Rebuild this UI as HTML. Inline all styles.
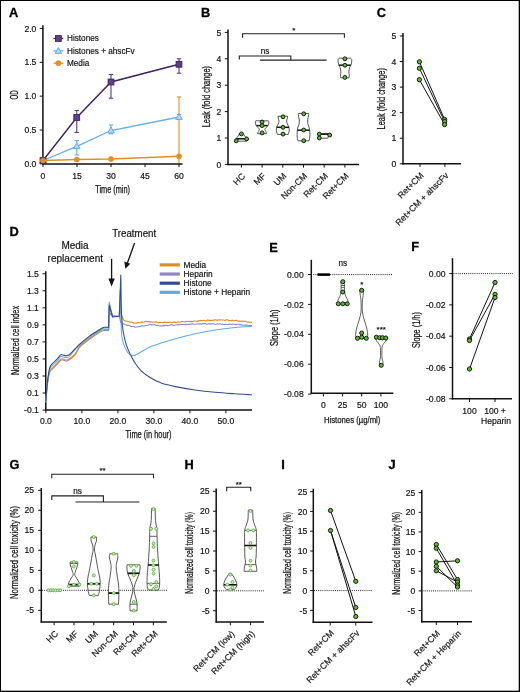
<!DOCTYPE html>
<html><head><meta charset="utf-8"><title>Figure</title>
<style>html,body{margin:0;padding:0;background:#fff;}svg{display:block;will-change:transform;}text{font-family:"Liberation Sans", sans-serif;}</style>
</head><body>
<svg width="520" height="692" viewBox="0 0 520 692" font-family='"Liberation Sans", sans-serif'>
<rect x="0" y="0" width="520" height="692" fill="#000"/>
<rect x="1" y="1" width="517.7" height="689.7" fill="#fff"/>
<text x="8.90" y="17.01" font-size="12.8" text-anchor="start" fill="#000" font-weight="bold" stroke="#000" stroke-width="0.3">A</text>
<line x1="42.90" y1="25.20" x2="42.90" y2="164.50" stroke="#111" stroke-width="1.5"/>
<line x1="39.70" y1="163.90" x2="42.90" y2="163.90" stroke="#111" stroke-width="1.0"/>
<text x="36.40" y="167.00" font-size="8.6" text-anchor="end" fill="#111" stroke="#111" stroke-width="0.18">0.0</text>
<line x1="39.70" y1="130.03" x2="42.90" y2="130.03" stroke="#111" stroke-width="1.0"/>
<text x="36.40" y="133.12" font-size="8.6" text-anchor="end" fill="#111" stroke="#111" stroke-width="0.18">0.5</text>
<line x1="39.70" y1="96.15" x2="42.90" y2="96.15" stroke="#111" stroke-width="1.0"/>
<text x="36.40" y="99.25" font-size="8.6" text-anchor="end" fill="#111" stroke="#111" stroke-width="0.18">1.0</text>
<line x1="39.70" y1="62.28" x2="42.90" y2="62.28" stroke="#111" stroke-width="1.0"/>
<text x="36.40" y="65.37" font-size="8.6" text-anchor="end" fill="#111" stroke="#111" stroke-width="0.18">1.5</text>
<line x1="39.70" y1="28.40" x2="42.90" y2="28.40" stroke="#111" stroke-width="1.0"/>
<text x="36.40" y="31.50" font-size="8.6" text-anchor="end" fill="#111" stroke="#111" stroke-width="0.18">2.0</text>
<line x1="42.20" y1="163.90" x2="182.50" y2="163.90" stroke="#111" stroke-width="1.5"/>
<line x1="43.00" y1="163.90" x2="43.00" y2="167.10" stroke="#111" stroke-width="1.0"/>
<text x="43.00" y="178.70" font-size="8.6" text-anchor="middle" fill="#111" stroke="#111" stroke-width="0.18">0</text>
<line x1="77.00" y1="163.90" x2="77.00" y2="167.10" stroke="#111" stroke-width="1.0"/>
<text x="77.00" y="178.70" font-size="8.6" text-anchor="middle" fill="#111" stroke="#111" stroke-width="0.18">15</text>
<line x1="111.00" y1="163.90" x2="111.00" y2="167.10" stroke="#111" stroke-width="1.0"/>
<text x="111.00" y="178.70" font-size="8.6" text-anchor="middle" fill="#111" stroke="#111" stroke-width="0.18">30</text>
<line x1="145.00" y1="163.90" x2="145.00" y2="167.10" stroke="#111" stroke-width="1.0"/>
<text x="145.00" y="178.70" font-size="8.6" text-anchor="middle" fill="#111" stroke="#111" stroke-width="0.18">45</text>
<line x1="179.00" y1="163.90" x2="179.00" y2="167.10" stroke="#111" stroke-width="1.0"/>
<text x="179.00" y="178.70" font-size="8.6" text-anchor="middle" fill="#111" stroke="#111" stroke-width="0.18">60</text>
<text x="112.60" y="193.00" font-size="10" text-anchor="middle" fill="#111" textLength="34.8" lengthAdjust="spacingAndGlyphs" stroke="#111" stroke-width="0.25">Time (min)</text>
<text x="14.30" y="98.50" font-size="10" text-anchor="middle" fill="#111" textLength="9.1" lengthAdjust="spacingAndGlyphs" transform="rotate(-90 14.30 94.90)" stroke="#111" stroke-width="0.25">OD</text>
<line x1="179.00" y1="97.00" x2="179.00" y2="163.00" stroke="#e0901e" stroke-width="1.1"/>
<line x1="176.80" y1="97.00" x2="181.20" y2="97.00" stroke="#e0901e" stroke-width="1.1"/>
<polyline points="43.00,160.50 76.75,146.30 111.00,130.50 179.00,117.00" fill="none" stroke="#64aee6" stroke-width="1.3"/>
<line x1="76.75" y1="140.50" x2="76.75" y2="155.00" stroke="#64aee6" stroke-width="1.1"/>
<line x1="74.55" y1="140.50" x2="78.95" y2="140.50" stroke="#64aee6" stroke-width="1.1"/>
<line x1="74.55" y1="155.00" x2="78.95" y2="155.00" stroke="#64aee6" stroke-width="1.1"/>
<line x1="111.00" y1="125.00" x2="111.00" y2="133.80" stroke="#64aee6" stroke-width="1.1"/>
<line x1="108.80" y1="125.00" x2="113.20" y2="125.00" stroke="#64aee6" stroke-width="1.1"/>
<line x1="108.80" y1="133.80" x2="113.20" y2="133.80" stroke="#64aee6" stroke-width="1.1"/>
<line x1="179.00" y1="114.50" x2="179.00" y2="119.00" stroke="#64aee6" stroke-width="1.1"/>
<line x1="176.80" y1="114.50" x2="181.20" y2="114.50" stroke="#64aee6" stroke-width="1.1"/>
<line x1="176.80" y1="119.00" x2="181.20" y2="119.00" stroke="#64aee6" stroke-width="1.1"/>
<path d="M43.00,157.10 L46.30,162.90 L39.70,162.90 Z" fill="#b9d6f2" stroke="#64aee6" stroke-width="1"/>
<path d="M76.75,142.90 L80.05,148.70 L73.45,148.70 Z" fill="#b9d6f2" stroke="#64aee6" stroke-width="1"/>
<path d="M111.00,127.10 L114.30,132.90 L107.70,132.90 Z" fill="#b9d6f2" stroke="#64aee6" stroke-width="1"/>
<path d="M179.00,113.60 L182.30,119.40 L175.70,119.40 Z" fill="#b9d6f2" stroke="#64aee6" stroke-width="1"/>
<polyline points="43.00,160.50 76.75,117.50 111.00,82.00 179.00,64.30" fill="none" stroke="#3e2160" stroke-width="1.4"/>
<line x1="76.75" y1="110.50" x2="76.75" y2="132.50" stroke="#5b3a80" stroke-width="1.1"/>
<line x1="74.55" y1="110.50" x2="78.95" y2="110.50" stroke="#5b3a80" stroke-width="1.1"/>
<line x1="74.55" y1="132.50" x2="78.95" y2="132.50" stroke="#5b3a80" stroke-width="1.1"/>
<line x1="111.00" y1="74.50" x2="111.00" y2="98.20" stroke="#5b3a80" stroke-width="1.1"/>
<line x1="108.80" y1="74.50" x2="113.20" y2="74.50" stroke="#5b3a80" stroke-width="1.1"/>
<line x1="108.80" y1="98.20" x2="113.20" y2="98.20" stroke="#5b3a80" stroke-width="1.1"/>
<line x1="179.00" y1="58.80" x2="179.00" y2="73.20" stroke="#5b3a80" stroke-width="1.1"/>
<line x1="176.80" y1="58.80" x2="181.20" y2="58.80" stroke="#5b3a80" stroke-width="1.1"/>
<line x1="176.80" y1="73.20" x2="181.20" y2="73.20" stroke="#5b3a80" stroke-width="1.1"/>
<rect x="40.10" y="157.60" width="5.8" height="5.8" fill="#5f4084" stroke="#3e2160" stroke-width="0.9"/>
<rect x="73.85" y="114.60" width="5.8" height="5.8" fill="#5f4084" stroke="#3e2160" stroke-width="0.9"/>
<rect x="108.10" y="79.10" width="5.8" height="5.8" fill="#5f4084" stroke="#3e2160" stroke-width="0.9"/>
<rect x="176.10" y="61.40" width="5.8" height="5.8" fill="#5f4084" stroke="#3e2160" stroke-width="0.9"/>
<polyline points="43.00,160.50 76.75,159.50 111.00,159.00 179.00,156.30" fill="none" stroke="#e0901e" stroke-width="1.4"/>
<circle cx="43.00" cy="160.50" r="2.6" fill="#e0901e" stroke="#e0901e" stroke-width="0.5"/>
<circle cx="76.75" cy="159.50" r="2.6" fill="#e0901e" stroke="#e0901e" stroke-width="0.5"/>
<circle cx="111.00" cy="159.00" r="2.6" fill="#e0901e" stroke="#e0901e" stroke-width="0.5"/>
<circle cx="179.00" cy="156.30" r="2.6" fill="#e0901e" stroke="#e0901e" stroke-width="0.5"/>
<line x1="53.50" y1="38.50" x2="63.30" y2="38.50" stroke="#3e2160" stroke-width="1.3"/>
<rect x="55.5" y="35.6" width="5.8" height="5.8" fill="#5f4084" stroke="#3e2160" stroke-width="0.9"/>
<text x="67.00" y="41.45" font-size="8.2" text-anchor="start" fill="#111" stroke="#111" stroke-width="0.18">Histones</text>
<line x1="53.50" y1="50.80" x2="63.30" y2="50.80" stroke="#64aee6" stroke-width="1.3"/>
<path d="M58.4,47.6 L61.6,53.4 L55.2,53.4 Z" fill="#b9d6f2" stroke="#64aee6" stroke-width="1"/>
<text x="67.00" y="53.75" font-size="8.2" text-anchor="start" fill="#111" stroke="#111" stroke-width="0.18">Histones + ahscFv</text>
<line x1="53.50" y1="63.20" x2="63.30" y2="63.20" stroke="#e0901e" stroke-width="1.3"/>
<circle cx="58.40" cy="63.20" r="2.6" fill="#e0901e" stroke="#e0901e" stroke-width="0.5"/>
<text x="67.00" y="66.15" font-size="8.2" text-anchor="start" fill="#111" stroke="#111" stroke-width="0.18">Media</text>
<text x="201.00" y="16.51" font-size="12.8" text-anchor="start" fill="#000" font-weight="bold" stroke="#000" stroke-width="0.3">B</text>
<line x1="228.00" y1="29.50" x2="228.00" y2="165.00" stroke="#111" stroke-width="1.5"/>
<line x1="224.80" y1="164.40" x2="228.00" y2="164.40" stroke="#111" stroke-width="1.0"/>
<text x="221.30" y="167.50" font-size="8.6" text-anchor="end" fill="#111" stroke="#111" stroke-width="0.18">0</text>
<line x1="224.80" y1="138.00" x2="228.00" y2="138.00" stroke="#111" stroke-width="1.0"/>
<text x="221.30" y="141.10" font-size="8.6" text-anchor="end" fill="#111" stroke="#111" stroke-width="0.18">1</text>
<line x1="224.80" y1="111.60" x2="228.00" y2="111.60" stroke="#111" stroke-width="1.0"/>
<text x="221.30" y="114.70" font-size="8.6" text-anchor="end" fill="#111" stroke="#111" stroke-width="0.18">2</text>
<line x1="224.80" y1="85.20" x2="228.00" y2="85.20" stroke="#111" stroke-width="1.0"/>
<text x="221.30" y="88.30" font-size="8.6" text-anchor="end" fill="#111" stroke="#111" stroke-width="0.18">3</text>
<line x1="224.80" y1="58.80" x2="228.00" y2="58.80" stroke="#111" stroke-width="1.0"/>
<text x="221.30" y="61.90" font-size="8.6" text-anchor="end" fill="#111" stroke="#111" stroke-width="0.18">4</text>
<line x1="224.80" y1="32.40" x2="228.00" y2="32.40" stroke="#111" stroke-width="1.0"/>
<text x="221.30" y="35.50" font-size="8.6" text-anchor="end" fill="#111" stroke="#111" stroke-width="0.18">5</text>
<line x1="227.30" y1="164.40" x2="359.00" y2="164.40" stroke="#111" stroke-width="1.5"/>
<line x1="241.40" y1="164.40" x2="241.40" y2="167.60" stroke="#111" stroke-width="1.0"/>
<line x1="262.10" y1="164.40" x2="262.10" y2="167.60" stroke="#111" stroke-width="1.0"/>
<line x1="282.80" y1="164.40" x2="282.80" y2="167.60" stroke="#111" stroke-width="1.0"/>
<line x1="303.50" y1="164.40" x2="303.50" y2="167.60" stroke="#111" stroke-width="1.0"/>
<line x1="324.20" y1="164.40" x2="324.20" y2="167.60" stroke="#111" stroke-width="1.0"/>
<line x1="344.90" y1="164.40" x2="344.90" y2="167.60" stroke="#111" stroke-width="1.0"/>
<text x="243.40" y="177.57" font-size="8.8" text-anchor="end" fill="#111" stroke="#111" stroke-width="0.18" transform="rotate(-45 243.40 174.40)">HC</text>
<text x="264.10" y="177.57" font-size="8.8" text-anchor="end" fill="#111" stroke="#111" stroke-width="0.18" transform="rotate(-45 264.10 174.40)">MF</text>
<text x="284.80" y="177.57" font-size="8.8" text-anchor="end" fill="#111" stroke="#111" stroke-width="0.18" transform="rotate(-45 284.80 174.40)">UM</text>
<text x="305.50" y="177.57" font-size="8.8" text-anchor="end" fill="#111" stroke="#111" stroke-width="0.18" transform="rotate(-45 305.50 174.40)">Non-CM</text>
<text x="326.20" y="177.57" font-size="8.8" text-anchor="end" fill="#111" stroke="#111" stroke-width="0.18" transform="rotate(-45 326.20 174.40)">Ret-CM</text>
<text x="346.90" y="177.57" font-size="8.8" text-anchor="end" fill="#111" stroke="#111" stroke-width="0.18" transform="rotate(-45 346.90 174.40)">Ret+CM</text>
<text x="206.20" y="100.20" font-size="10" text-anchor="middle" fill="#111" textLength="61.3" lengthAdjust="spacingAndGlyphs" transform="rotate(-90 206.20 96.60)" stroke="#111" stroke-width="0.25">Leak (fold change)</text>
<polyline points="242.60,37.80 242.60,33.80 344.40,33.80 344.40,37.80" fill="none" stroke="#222" stroke-width="1.1"/>
<text x="293.70" y="33.38" font-size="8" text-anchor="middle" fill="#111" stroke="#111" stroke-width="0.18">*</text>
<polyline points="239.30,59.40 239.30,56.00 290.80,56.00 290.80,60.10" fill="none" stroke="#222" stroke-width="1.1"/>
<line x1="260.00" y1="60.10" x2="326.70" y2="60.10" stroke="#222" stroke-width="1.1"/>
<text x="265.00" y="53.75" font-size="8.2" text-anchor="middle" fill="#111" stroke="#111" stroke-width="0.18">ns</text>
<path d="M239.60,133.50 L243.20,133.50 C243.43,133.92 243.98,135.08 244.60,136.00 C245.22,136.92 246.57,138.13 246.90,139.00 C247.23,139.87 246.65,140.83 246.60,141.20 L236.20,141.20 C236.15,140.83 235.57,139.87 235.90,139.00 C236.23,138.13 237.58,136.92 238.20,136.00 C238.82,135.08 239.37,133.92 239.60,133.50 Z" fill="#fff" stroke="#3a3a3a" stroke-width="0.85" stroke-linejoin="round"/>
<line x1="236.05" y1="138.80" x2="246.75" y2="138.80" stroke="#111" stroke-width="1.5"/>
<path d="M255.80,120.80 L268.40,120.80 C268.48,121.17 269.02,122.13 268.90,123.00 C268.78,123.87 268.37,125.00 267.70,126.00 C267.03,127.00 265.20,128.08 264.90,129.00 C264.60,129.92 265.60,130.72 265.90,131.50 C266.20,132.28 266.57,133.33 266.70,133.70 L257.50,133.70 C257.63,133.33 258.00,132.28 258.30,131.50 C258.60,130.72 259.60,129.92 259.30,129.00 C259.00,128.08 257.17,127.00 256.50,126.00 C255.83,125.00 255.42,123.87 255.30,123.00 C255.18,122.13 255.72,121.17 255.80,120.80 Z" fill="#fff" stroke="#3a3a3a" stroke-width="0.85" stroke-linejoin="round"/>
<line x1="256.34" y1="125.60" x2="267.86" y2="125.60" stroke="#111" stroke-width="1.5"/>
<path d="M278.00,116.20 L287.60,116.20 C287.57,116.50 287.57,117.20 287.40,118.00 C287.23,118.80 286.60,120.00 286.60,121.00 C286.60,122.00 287.00,122.93 287.40,124.00 C287.80,125.07 288.70,126.23 289.00,127.40 C289.30,128.57 289.33,129.83 289.20,131.00 C289.07,132.17 288.37,133.83 288.20,134.40 L277.40,134.40 C277.23,133.83 276.53,132.17 276.40,131.00 C276.27,129.83 276.30,128.57 276.60,127.40 C276.90,126.23 277.80,125.07 278.20,124.00 C278.60,122.93 279.00,122.00 279.00,121.00 C279.00,120.00 278.37,118.80 278.20,118.00 C278.03,117.20 278.03,116.50 278.00,116.20 Z" fill="#fff" stroke="#3a3a3a" stroke-width="0.85" stroke-linejoin="round"/>
<line x1="276.65" y1="127.30" x2="288.95" y2="127.30" stroke="#111" stroke-width="1.5"/>
<path d="M298.30,113.40 L308.70,113.40 C308.67,113.83 308.67,114.90 308.50,116.00 C308.33,117.10 307.80,118.67 307.70,120.00 C307.60,121.33 307.63,122.67 307.90,124.00 C308.17,125.33 308.98,126.67 309.30,128.00 C309.62,129.33 309.72,130.50 309.80,132.00 C309.88,133.50 309.92,135.53 309.80,137.00 C309.68,138.47 309.22,140.17 309.10,140.80 L297.90,140.80 C297.78,140.17 297.32,138.47 297.20,137.00 C297.08,135.53 297.12,133.50 297.20,132.00 C297.28,130.50 297.38,129.33 297.70,128.00 C298.02,126.67 298.83,125.33 299.10,124.00 C299.37,122.67 299.40,121.33 299.30,120.00 C299.20,118.67 298.67,117.10 298.50,116.00 C298.33,114.90 298.33,113.83 298.30,113.40 Z" fill="#fff" stroke="#3a3a3a" stroke-width="0.85" stroke-linejoin="round"/>
<line x1="297.43" y1="130.20" x2="309.57" y2="130.20" stroke="#111" stroke-width="1.5"/>
<path d="M319.60,133.60 L328.80,133.60 C328.77,133.92 328.77,134.73 328.60,135.50 C328.43,136.27 327.93,137.75 327.80,138.20 L320.60,138.20 C320.47,137.75 319.97,136.27 319.80,135.50 C319.63,134.73 319.63,133.92 319.60,133.60 Z" fill="#fff" stroke="#3a3a3a" stroke-width="0.85" stroke-linejoin="round"/>
<line x1="319.66" y1="134.20" x2="328.74" y2="134.20" stroke="#111" stroke-width="1.5"/>
<path d="M339.10,58.20 L350.70,58.20 C350.87,58.42 351.57,58.70 351.70,59.50 C351.83,60.30 351.63,62.05 351.50,63.00 C351.37,63.95 351.23,64.37 350.90,65.20 C350.57,66.03 349.83,66.87 349.50,68.00 C349.17,69.13 348.93,70.83 348.90,72.00 C348.87,73.17 349.27,74.03 349.30,75.00 C349.33,75.97 349.13,77.33 349.10,77.80 L340.70,77.80 C340.67,77.33 340.47,75.97 340.50,75.00 C340.53,74.03 340.93,73.17 340.90,72.00 C340.87,70.83 340.63,69.13 340.30,68.00 C339.97,66.87 339.23,66.03 338.90,65.20 C338.57,64.37 338.43,63.95 338.30,63.00 C338.17,62.05 337.97,60.30 338.10,59.50 C338.23,58.70 338.93,58.42 339.10,58.20 Z" fill="#fff" stroke="#3a3a3a" stroke-width="0.85" stroke-linejoin="round"/>
<line x1="338.90" y1="65.20" x2="350.90" y2="65.20" stroke="#111" stroke-width="1.5"/>
<circle cx="236.20" cy="140.80" r="1.9320000000000002" fill="#5db834" stroke="#151a10" stroke-width="1.0"/>
<circle cx="241.40" cy="133.90" r="1.9320000000000002" fill="#5db834" stroke="#151a10" stroke-width="1.0"/>
<circle cx="246.60" cy="138.90" r="1.9320000000000002" fill="#5db834" stroke="#151a10" stroke-width="1.0"/>
<circle cx="262.10" cy="122.00" r="1.9320000000000002" fill="#5db834" stroke="#151a10" stroke-width="1.0"/>
<circle cx="262.10" cy="125.60" r="1.9320000000000002" fill="#5db834" stroke="#151a10" stroke-width="1.0"/>
<circle cx="262.10" cy="132.90" r="1.9320000000000002" fill="#5db834" stroke="#151a10" stroke-width="1.0"/>
<circle cx="283.00" cy="116.80" r="1.9320000000000002" fill="#5db834" stroke="#151a10" stroke-width="1.0"/>
<circle cx="283.00" cy="127.30" r="1.9320000000000002" fill="#5db834" stroke="#151a10" stroke-width="1.0"/>
<circle cx="283.00" cy="134.10" r="1.9320000000000002" fill="#5db834" stroke="#151a10" stroke-width="1.0"/>
<circle cx="303.70" cy="113.80" r="1.9320000000000002" fill="#5db834" stroke="#151a10" stroke-width="1.0"/>
<circle cx="303.70" cy="130.00" r="1.9320000000000002" fill="#5db834" stroke="#151a10" stroke-width="1.0"/>
<circle cx="303.70" cy="140.70" r="1.9320000000000002" fill="#5db834" stroke="#151a10" stroke-width="1.0"/>
<circle cx="319.30" cy="134.10" r="1.9320000000000002" fill="#5db834" stroke="#151a10" stroke-width="1.0"/>
<circle cx="319.30" cy="138.00" r="1.9320000000000002" fill="#5db834" stroke="#151a10" stroke-width="1.0"/>
<circle cx="329.70" cy="135.00" r="1.9320000000000002" fill="#5db834" stroke="#151a10" stroke-width="1.0"/>
<circle cx="344.90" cy="58.80" r="1.9320000000000002" fill="#5db834" stroke="#151a10" stroke-width="1.0"/>
<circle cx="344.90" cy="65.30" r="1.9320000000000002" fill="#5db834" stroke="#151a10" stroke-width="1.0"/>
<circle cx="344.90" cy="77.40" r="1.9320000000000002" fill="#5db834" stroke="#151a10" stroke-width="1.0"/>
<text x="376.70" y="16.96" font-size="12.8" text-anchor="start" fill="#000" font-weight="bold" stroke="#000" stroke-width="0.3">C</text>
<line x1="403.00" y1="33.00" x2="403.00" y2="164.40" stroke="#111" stroke-width="1.5"/>
<line x1="399.80" y1="163.80" x2="403.00" y2="163.80" stroke="#111" stroke-width="1.0"/>
<text x="396.30" y="166.90" font-size="8.6" text-anchor="end" fill="#111" stroke="#111" stroke-width="0.18">0</text>
<line x1="399.80" y1="138.24" x2="403.00" y2="138.24" stroke="#111" stroke-width="1.0"/>
<text x="396.30" y="141.34" font-size="8.6" text-anchor="end" fill="#111" stroke="#111" stroke-width="0.18">1</text>
<line x1="399.80" y1="112.68" x2="403.00" y2="112.68" stroke="#111" stroke-width="1.0"/>
<text x="396.30" y="115.78" font-size="8.6" text-anchor="end" fill="#111" stroke="#111" stroke-width="0.18">2</text>
<line x1="399.80" y1="87.12" x2="403.00" y2="87.12" stroke="#111" stroke-width="1.0"/>
<text x="396.30" y="90.22" font-size="8.6" text-anchor="end" fill="#111" stroke="#111" stroke-width="0.18">3</text>
<line x1="399.80" y1="61.56" x2="403.00" y2="61.56" stroke="#111" stroke-width="1.0"/>
<text x="396.30" y="64.66" font-size="8.6" text-anchor="end" fill="#111" stroke="#111" stroke-width="0.18">4</text>
<line x1="399.80" y1="36.00" x2="403.00" y2="36.00" stroke="#111" stroke-width="1.0"/>
<text x="396.30" y="39.10" font-size="8.6" text-anchor="end" fill="#111" stroke="#111" stroke-width="0.18">5</text>
<line x1="402.30" y1="163.80" x2="461.00" y2="163.80" stroke="#111" stroke-width="1.5"/>
<line x1="420.00" y1="163.80" x2="420.00" y2="167.00" stroke="#111" stroke-width="1.0"/>
<line x1="444.90" y1="163.80" x2="444.90" y2="167.00" stroke="#111" stroke-width="1.0"/>
<text x="422.00" y="176.97" font-size="8.8" text-anchor="end" fill="#111" stroke="#111" stroke-width="0.18" transform="rotate(-45 422.00 173.80)">Ret+CM</text>
<text x="446.90" y="176.97" font-size="8.8" text-anchor="end" fill="#111" stroke="#111" stroke-width="0.18" transform="rotate(-45 446.90 173.80)">Ret+CM + ahscFv</text>
<text x="381.40" y="102.35" font-size="10" text-anchor="middle" fill="#111" textLength="61.3" lengthAdjust="spacingAndGlyphs" transform="rotate(-90 381.40 98.75)" stroke="#111" stroke-width="0.25">Leak (fold change)</text>
<line x1="419.40" y1="61.80" x2="444.60" y2="119.40" stroke="#111" stroke-width="1.0"/>
<line x1="419.40" y1="68.30" x2="444.60" y2="121.50" stroke="#111" stroke-width="1.0"/>
<line x1="419.40" y1="79.70" x2="444.60" y2="124.60" stroke="#111" stroke-width="1.0"/>
<circle cx="419.40" cy="61.80" r="2.116" fill="#5db834" stroke="#151a10" stroke-width="1.0"/>
<circle cx="419.40" cy="68.30" r="2.116" fill="#5db834" stroke="#151a10" stroke-width="1.0"/>
<circle cx="419.40" cy="79.70" r="2.116" fill="#5db834" stroke="#151a10" stroke-width="1.0"/>
<circle cx="444.60" cy="119.40" r="2.116" fill="#5db834" stroke="#151a10" stroke-width="1.0"/>
<circle cx="444.60" cy="121.50" r="2.116" fill="#5db834" stroke="#151a10" stroke-width="1.0"/>
<circle cx="444.60" cy="124.60" r="2.116" fill="#5db834" stroke="#151a10" stroke-width="1.0"/>
<text x="9.50" y="236.41" font-size="12.8" text-anchor="start" fill="#000" font-weight="bold" stroke="#000" stroke-width="0.3">D</text>
<line x1="45.75" y1="271.20" x2="45.75" y2="410.60" stroke="#111" stroke-width="1.5"/>
<line x1="42.55" y1="273.75" x2="45.75" y2="273.75" stroke="#111" stroke-width="1.0"/>
<text x="38.90" y="276.85" font-size="8.6" text-anchor="end" fill="#111" stroke="#111" stroke-width="0.18">1.5</text>
<line x1="42.55" y1="290.79" x2="45.75" y2="290.79" stroke="#111" stroke-width="1.0"/>
<text x="38.90" y="293.89" font-size="8.6" text-anchor="end" fill="#111" stroke="#111" stroke-width="0.18">1.3</text>
<line x1="42.55" y1="307.83" x2="45.75" y2="307.83" stroke="#111" stroke-width="1.0"/>
<text x="38.90" y="310.93" font-size="8.6" text-anchor="end" fill="#111" stroke="#111" stroke-width="0.18">1.1</text>
<line x1="42.55" y1="324.87" x2="45.75" y2="324.87" stroke="#111" stroke-width="1.0"/>
<text x="38.90" y="327.97" font-size="8.6" text-anchor="end" fill="#111" stroke="#111" stroke-width="0.18">0.9</text>
<line x1="42.55" y1="341.91" x2="45.75" y2="341.91" stroke="#111" stroke-width="1.0"/>
<text x="38.90" y="345.01" font-size="8.6" text-anchor="end" fill="#111" stroke="#111" stroke-width="0.18">0.7</text>
<line x1="42.55" y1="358.95" x2="45.75" y2="358.95" stroke="#111" stroke-width="1.0"/>
<text x="38.90" y="362.05" font-size="8.6" text-anchor="end" fill="#111" stroke="#111" stroke-width="0.18">0.5</text>
<line x1="42.55" y1="375.99" x2="45.75" y2="375.99" stroke="#111" stroke-width="1.0"/>
<text x="38.90" y="379.09" font-size="8.6" text-anchor="end" fill="#111" stroke="#111" stroke-width="0.18">0.3</text>
<line x1="42.55" y1="393.03" x2="45.75" y2="393.03" stroke="#111" stroke-width="1.0"/>
<text x="38.90" y="396.13" font-size="8.6" text-anchor="end" fill="#111" stroke="#111" stroke-width="0.18">0.1</text>
<line x1="42.55" y1="410.07" x2="45.75" y2="410.07" stroke="#111" stroke-width="1.0"/>
<text x="38.90" y="413.17" font-size="8.6" text-anchor="end" fill="#111" stroke="#111" stroke-width="0.18">-0.1</text>
<line x1="45.10" y1="410.00" x2="252.00" y2="410.00" stroke="#111" stroke-width="1.5"/>
<line x1="45.90" y1="410.00" x2="45.90" y2="413.20" stroke="#111" stroke-width="1.0"/>
<text x="45.90" y="424.30" font-size="8.6" text-anchor="middle" fill="#111" stroke="#111" stroke-width="0.18">0.0</text>
<line x1="81.90" y1="410.00" x2="81.90" y2="413.20" stroke="#111" stroke-width="1.0"/>
<text x="81.90" y="424.30" font-size="8.6" text-anchor="middle" fill="#111" stroke="#111" stroke-width="0.18">10.0</text>
<line x1="117.90" y1="410.00" x2="117.90" y2="413.20" stroke="#111" stroke-width="1.0"/>
<text x="117.90" y="424.30" font-size="8.6" text-anchor="middle" fill="#111" stroke="#111" stroke-width="0.18">20.0</text>
<line x1="153.90" y1="410.00" x2="153.90" y2="413.20" stroke="#111" stroke-width="1.0"/>
<text x="153.90" y="424.30" font-size="8.6" text-anchor="middle" fill="#111" stroke="#111" stroke-width="0.18">30.0</text>
<line x1="189.90" y1="410.00" x2="189.90" y2="413.20" stroke="#111" stroke-width="1.0"/>
<text x="189.90" y="424.30" font-size="8.6" text-anchor="middle" fill="#111" stroke="#111" stroke-width="0.18">40.0</text>
<line x1="225.90" y1="410.00" x2="225.90" y2="413.20" stroke="#111" stroke-width="1.0"/>
<text x="225.90" y="424.30" font-size="8.6" text-anchor="middle" fill="#111" stroke="#111" stroke-width="0.18">50.0</text>
<text x="148.50" y="438.48" font-size="10.5" text-anchor="middle" fill="#111" textLength="46" lengthAdjust="spacingAndGlyphs" stroke="#111" stroke-width="0.25">Time (in hour)</text>
<text x="15.30" y="344.28" font-size="10.5" text-anchor="middle" fill="#111" textLength="69.1" lengthAdjust="spacingAndGlyphs" transform="rotate(-90 15.30 340.50)" stroke="#111" stroke-width="0.25">Normalized cell index</text>
<text x="75.00" y="249.40" font-size="10" text-anchor="middle" fill="#111" stroke="#111" stroke-width="0.18">Media</text>
<text x="75.30" y="262.40" font-size="10" text-anchor="middle" fill="#111" stroke="#111" stroke-width="0.18" textLength="55.5" lengthAdjust="spacingAndGlyphs">replacement</text>
<text x="134.20" y="236.60" font-size="10" text-anchor="middle" fill="#111" stroke="#111" stroke-width="0.18" textLength="44" lengthAdjust="spacingAndGlyphs">Treatment</text>
<line x1="111.60" y1="258.80" x2="111.60" y2="281.00" stroke="#111" stroke-width="1.3"/>
<path d="M108.4,278.5 L111.6,286.5 L114.8,278.5 Z" fill="#111"/>
<line x1="134.60" y1="243.00" x2="127.20" y2="263.50" stroke="#111" stroke-width="1.3"/>
<path d="M124.3,261.4 L125.4,268.8 L130.3,263.7 Z" fill="#111"/>
<path d="M45.90,402.00 C46.12,399.33 46.58,390.92 47.20,386.00 C47.82,381.08 48.57,375.47 49.60,372.50 C50.63,369.53 51.52,370.25 53.40,368.20 C55.28,366.15 59.13,361.50 60.90,360.20 C62.67,358.90 62.90,360.32 64.00,360.40 C65.10,360.48 65.67,361.58 67.50,360.70 C69.33,359.82 72.92,357.42 75.00,355.10 C77.08,352.78 77.53,349.48 80.00,346.80 C82.47,344.12 86.52,341.42 89.80,339.00 C93.08,336.58 97.33,333.72 99.70,332.30 C102.07,330.88 102.52,330.80 104.00,330.50 C105.48,330.20 107.83,330.50 108.60,330.50 L109.20,312.60 L112.60,316.60 L116.00,316.20 L119.30,316.40 L120.80,322.40 L122.00,323.20 L122.00,322.99 L123.33,323.77 L124.67,324.16 L126.00,324.88 L127.33,325.37 L128.67,325.39 L130.00,325.81 L131.28,326.63 L132.56,326.33 L133.84,326.47 L135.12,327.24 L136.40,326.98 L137.70,327.04 L139.00,326.53 L140.30,326.44 L141.60,325.82 L142.90,325.98 L144.20,325.94 L145.50,325.44 L146.80,325.39 L148.40,324.99 L150.00,324.15 L151.25,324.84 L152.50,324.85 L153.75,324.75 L155.00,324.67 L156.25,325.48 L157.50,325.30 L158.75,325.64 L160.00,325.90 L161.25,325.72 L162.50,325.84 L163.75,325.37 L165.00,325.64 L166.25,325.31 L167.50,325.65 L168.75,325.55 L170.00,324.88 L171.25,324.86 L172.50,324.87 L173.75,325.42 L175.00,324.95 L176.25,325.02 L177.50,324.67 L178.75,324.76 L180.00,324.58 L181.25,324.46 L182.50,324.57 L183.75,324.48 L185.00,324.66 L186.25,324.40 L187.50,324.51 L188.75,324.37 L190.00,324.39 L191.25,324.12 L192.50,323.70 L193.75,324.24 L195.00,324.31 L196.25,324.24 L197.50,323.96 L198.75,324.05 L200.00,323.64 L201.25,324.12 L202.50,323.89 L203.75,323.64 L205.00,323.45 L206.25,324.11 L207.50,324.24 L208.75,323.55 L210.00,324.14 L211.25,323.85 L212.50,323.67 L213.75,323.81 L215.00,324.22 L216.25,324.32 L217.50,323.69 L218.75,324.17 L220.00,323.74 L221.25,324.30 L222.50,324.01 L223.75,324.48 L225.00,324.58 L226.25,324.24 L227.50,324.67 L228.75,324.15 L230.00,323.99 L231.25,324.45 L232.50,324.03 L233.75,324.19 L235.00,324.39 L236.25,324.59 L237.50,324.26 L238.75,324.20 L240.00,324.89 L241.32,324.56 L242.64,325.19 L243.97,325.25 L245.29,324.95 L246.61,325.12 L247.93,325.28 L249.26,325.49 L250.58,325.57 L251.90,325.60" fill="none" stroke="#9686c8" stroke-width="1.1" stroke-linejoin="round"/>
<path d="M45.90,401.00 C46.12,398.33 46.58,389.92 47.20,385.00 C47.82,380.08 48.57,374.47 49.60,371.50 C50.63,368.53 51.52,369.25 53.40,367.20 C55.28,365.15 59.13,360.50 60.90,359.20 C62.67,357.90 62.90,359.32 64.00,359.40 C65.10,359.48 65.67,360.58 67.50,359.70 C69.33,358.82 72.92,356.42 75.00,354.10 C77.08,351.78 77.53,348.48 80.00,345.80 C82.47,343.12 86.52,340.42 89.80,338.00 C93.08,335.58 97.33,332.72 99.70,331.30 C102.07,329.88 102.52,329.80 104.00,329.50 C105.48,329.20 107.83,329.50 108.60,329.50 L109.20,307.80 L112.60,315.60 L116.00,316.00 L119.30,316.20 L119.90,303.20 L121.20,314.00 L123.50,320.00 L123.50,320.05 L124.80,320.51 L126.10,321.20 L127.40,321.21 L128.70,321.54 L130.00,322.20 L131.28,322.00 L132.56,322.30 L133.84,323.15 L135.12,322.98 L136.40,323.24 L137.70,322.55 L139.00,322.70 L140.30,322.63 L141.60,321.92 L142.90,322.24 L144.20,322.04 L145.50,321.32 L146.80,321.61 L148.40,321.57 L150.00,321.86 L151.25,321.68 L152.50,322.11 L153.75,322.25 L155.00,321.72 L156.25,321.87 L157.50,322.53 L158.75,322.90 L160.00,322.38 L161.25,322.54 L162.50,322.63 L163.75,322.36 L165.00,322.38 L166.25,322.31 L167.50,322.33 L168.75,322.51 L170.00,322.22 L171.25,322.26 L172.50,322.60 L173.75,321.90 L175.00,322.36 L176.25,322.44 L177.50,322.00 L178.75,321.85 L180.00,322.31 L181.25,321.73 L182.50,321.62 L183.75,321.78 L185.00,321.94 L186.25,321.34 L187.50,321.47 L188.75,321.42 L190.00,321.80 L191.25,321.36 L192.50,321.65 L193.75,320.95 L195.00,321.02 L196.25,321.22 L197.50,321.35 L198.75,320.87 L200.00,320.59 L201.25,320.41 L202.50,320.69 L203.75,320.31 L205.00,320.78 L206.25,320.76 L207.50,320.13 L208.75,320.18 L210.00,320.61 L211.25,320.42 L212.50,320.53 L213.75,320.07 L215.00,319.83 L216.25,319.94 L217.50,320.35 L218.75,319.84 L220.00,319.86 L221.25,319.96 L222.50,319.99 L223.75,320.02 L225.00,320.51 L226.25,319.86 L227.50,319.75 L228.75,320.63 L230.00,320.61 L231.25,320.74 L232.50,320.27 L233.75,320.77 L235.00,320.78 L236.21,320.31 L237.41,320.94 L238.62,321.17 L239.83,321.18 L241.04,321.20 L242.24,321.15 L243.45,321.36 L244.66,321.41 L245.86,321.43 L247.07,322.05 L248.28,321.94 L249.49,322.56 L250.69,322.03 L251.90,322.60" fill="none" stroke="#e38d1f" stroke-width="1.15" stroke-linejoin="round"/>
<path d="M45.90,402.80 C46.12,399.97 46.58,391.27 47.20,385.80 C47.82,380.33 48.72,373.42 49.60,370.00 C50.48,366.58 51.25,366.80 52.50,365.30 C53.75,363.80 55.70,362.48 57.10,361.00 C58.50,359.52 59.83,357.05 60.90,356.40 C61.97,355.75 62.57,356.93 63.50,357.10 C64.43,357.27 65.52,357.52 66.50,357.40 C67.48,357.28 67.98,357.70 69.40,356.40 C70.82,355.10 73.23,351.57 75.00,349.60 C76.77,347.63 77.53,346.77 80.00,344.60 C82.47,342.43 86.52,339.00 89.80,336.60 C93.08,334.20 97.33,331.63 99.70,330.20 C102.07,328.77 102.52,328.35 104.00,328.00 C105.48,327.65 107.83,328.08 108.60,328.10 L109.20,302.00 L112.60,316.50 L116.00,316.20 L119.30,316.20 L120.20,290.00 L120.20,290.00 C120.42,297.17 120.83,323.77 121.50,333.00 C122.17,342.23 123.10,342.07 124.20,345.40 C125.30,348.73 126.68,351.27 128.10,353.00 C129.52,354.73 131.03,355.67 132.70,355.80 C134.37,355.93 135.67,355.07 138.10,353.80 C140.53,352.53 143.45,349.98 147.30,348.20 C151.15,346.42 156.33,344.72 161.20,343.10 C166.07,341.48 170.87,340.05 176.50,338.50 C182.13,336.95 188.58,335.22 195.00,333.80 C201.42,332.38 208.33,331.05 215.00,330.00 C221.67,328.95 228.85,328.12 235.00,327.50 C241.15,326.88 249.08,326.50 251.90,326.30" fill="none" stroke="#5eaae4" stroke-width="1.05" stroke-linejoin="round"/>
<path d="M45.90,401.00 C46.12,398.17 46.58,389.47 47.20,384.00 C47.82,378.53 48.72,371.62 49.60,368.20 C50.48,364.78 51.25,365.00 52.50,363.50 C53.75,362.00 55.70,360.68 57.10,359.20 C58.50,357.72 59.83,355.25 60.90,354.60 C61.97,353.95 62.57,355.13 63.50,355.30 C64.43,355.47 65.52,355.72 66.50,355.60 C67.48,355.48 67.98,355.72 69.40,354.60 C70.82,353.48 73.23,350.68 75.00,348.90 C76.77,347.12 77.53,346.07 80.00,343.90 C82.47,341.73 86.52,338.30 89.80,335.90 C93.08,333.50 97.33,330.93 99.70,329.50 C102.07,328.07 102.52,327.65 104.00,327.30 C105.48,326.95 107.83,327.38 108.60,327.40 L109.20,305.00 L112.60,317.00 L116.00,316.50 L119.30,316.20 L120.80,275.00 L120.80,275.00 C120.93,281.87 121.15,306.53 121.60,316.20 C122.05,325.87 122.68,328.13 123.50,333.00 C124.32,337.87 125.35,341.80 126.50,345.40 C127.65,349.00 128.98,351.67 130.40,354.60 C131.82,357.53 133.20,360.30 135.00,363.00 C136.80,365.70 138.63,368.35 141.20,370.80 C143.77,373.25 147.07,375.67 150.40,377.70 C153.73,379.73 156.85,381.47 161.20,383.00 C165.55,384.53 170.87,385.73 176.50,386.90 C182.13,388.07 188.58,389.10 195.00,390.00 C201.42,390.90 208.33,391.67 215.00,392.30 C221.67,392.93 228.85,393.38 235.00,393.80 C241.15,394.22 249.08,394.63 251.90,394.80" fill="none" stroke="#30508c" stroke-width="1.1" stroke-linejoin="round"/>
<line x1="159.70" y1="264.90" x2="179.90" y2="264.90" stroke="#e38d1f" stroke-width="3.2"/>
<text x="183.60" y="267.89" font-size="8.3" text-anchor="start" fill="#111" stroke="#111" stroke-width="0.18">Media</text>
<line x1="159.70" y1="274.05" x2="179.90" y2="274.05" stroke="#9686c8" stroke-width="3.2"/>
<text x="183.60" y="277.04" font-size="8.3" text-anchor="start" fill="#111" stroke="#111" stroke-width="0.18">Heparin</text>
<line x1="159.70" y1="283.20" x2="179.90" y2="283.20" stroke="#30508c" stroke-width="3.2"/>
<text x="183.60" y="286.19" font-size="8.3" text-anchor="start" fill="#111" stroke="#111" stroke-width="0.18">Histone</text>
<line x1="159.70" y1="292.35" x2="179.90" y2="292.35" stroke="#5eaae4" stroke-width="3.2"/>
<text x="183.60" y="295.34" font-size="8.3" text-anchor="start" fill="#111" stroke="#111" stroke-width="0.18">Histone + Heparin</text>
<text x="269.30" y="252.11" font-size="12.8" text-anchor="start" fill="#000" font-weight="bold" stroke="#000" stroke-width="0.3">E</text>
<line x1="311.30" y1="259.80" x2="311.30" y2="393.60" stroke="#111" stroke-width="1.5"/>
<line x1="308.10" y1="274.50" x2="311.30" y2="274.50" stroke="#111" stroke-width="1.0"/>
<text x="303.70" y="277.60" font-size="8.6" text-anchor="end" fill="#111" stroke="#111" stroke-width="0.18">0.00</text>
<line x1="308.10" y1="304.40" x2="311.30" y2="304.40" stroke="#111" stroke-width="1.0"/>
<text x="303.70" y="307.50" font-size="8.6" text-anchor="end" fill="#111" stroke="#111" stroke-width="0.18">-0.02</text>
<line x1="308.10" y1="334.30" x2="311.30" y2="334.30" stroke="#111" stroke-width="1.0"/>
<text x="303.70" y="337.40" font-size="8.6" text-anchor="end" fill="#111" stroke="#111" stroke-width="0.18">-0.04</text>
<line x1="308.10" y1="364.20" x2="311.30" y2="364.20" stroke="#111" stroke-width="1.0"/>
<text x="303.70" y="367.30" font-size="8.6" text-anchor="end" fill="#111" stroke="#111" stroke-width="0.18">-0.06</text>
<line x1="308.10" y1="394.10" x2="311.30" y2="394.10" stroke="#111" stroke-width="1.0"/>
<text x="303.70" y="397.20" font-size="8.6" text-anchor="end" fill="#111" stroke="#111" stroke-width="0.18">-0.08</text>
<line x1="310.60" y1="393.30" x2="393.40" y2="393.30" stroke="#111" stroke-width="1.5"/>
<line x1="323.40" y1="393.30" x2="323.40" y2="396.50" stroke="#111" stroke-width="1.0"/>
<text x="323.40" y="408.20" font-size="8.6" text-anchor="middle" fill="#111" stroke="#111" stroke-width="0.18">0</text>
<line x1="342.60" y1="393.30" x2="342.60" y2="396.50" stroke="#111" stroke-width="1.0"/>
<text x="342.60" y="408.20" font-size="8.6" text-anchor="middle" fill="#111" stroke="#111" stroke-width="0.18">25</text>
<line x1="361.70" y1="393.30" x2="361.70" y2="396.50" stroke="#111" stroke-width="1.0"/>
<text x="361.70" y="408.20" font-size="8.6" text-anchor="middle" fill="#111" stroke="#111" stroke-width="0.18">50</text>
<line x1="380.90" y1="393.30" x2="380.90" y2="396.50" stroke="#111" stroke-width="1.0"/>
<text x="380.90" y="408.20" font-size="8.6" text-anchor="middle" fill="#111" stroke="#111" stroke-width="0.18">100</text>
<text x="352.15" y="423.13" font-size="9.8" text-anchor="middle" fill="#111" textLength="56.5" lengthAdjust="spacingAndGlyphs" stroke="#111" stroke-width="0.25">Histones (µg/ml)</text>
<text x="274.30" y="331.58" font-size="10.5" text-anchor="middle" fill="#111" textLength="36.5" lengthAdjust="spacingAndGlyphs" transform="rotate(-90 274.30 327.80)" stroke="#111" stroke-width="0.25">Slope (1/h)</text>
<line x1="313.30" y1="274.60" x2="392.50" y2="274.60" stroke="#222" stroke-width="1.0" stroke-dasharray="1 1.1"/>
<line x1="317.50" y1="274.60" x2="330.00" y2="274.60" stroke="#000" stroke-width="2.6"/>
<text x="342.80" y="266.25" font-size="8.2" text-anchor="middle" fill="#111" stroke="#111" stroke-width="0.18">ns</text>
<text x="361.70" y="286.88" font-size="8" text-anchor="middle" fill="#111" stroke="#111" stroke-width="0.18">*</text>
<text x="381.20" y="331.68" font-size="8" text-anchor="middle" fill="#111" stroke="#111" stroke-width="0.18">***</text>
<path d="M341.00,281.70 L344.60,281.70 C344.58,282.42 344.50,284.28 344.50,286.00 C344.50,287.72 344.42,290.33 344.60,292.00 C344.78,293.67 345.10,294.67 345.60,296.00 C346.10,297.33 347.17,298.70 347.60,300.00 C348.03,301.30 348.10,303.17 348.20,303.80 L337.40,303.80 C337.50,303.17 337.57,301.30 338.00,300.00 C338.43,298.70 339.50,297.33 340.00,296.00 C340.50,294.67 340.82,293.67 341.00,292.00 C341.18,290.33 341.10,287.72 341.10,286.00 C341.10,284.28 341.02,282.42 341.00,281.70 Z" fill="#fff" stroke="#3a3a3a" stroke-width="0.75" stroke-linejoin="round"/>
<line x1="341.09" y1="285.50" x2="344.51" y2="285.50" stroke="#3a3a3a" stroke-width="0.8"/>
<line x1="341.08" y1="287.30" x2="344.52" y2="287.30" stroke="#3a3a3a" stroke-width="0.8"/>
<path d="M359.70,290.30 L363.70,290.30 C363.63,290.92 363.53,292.05 363.30,294.00 C363.07,295.95 362.45,299.00 362.30,302.00 C362.15,305.00 362.07,309.00 362.40,312.00 C362.73,315.00 363.58,317.33 364.30,320.00 C365.02,322.67 366.13,325.67 366.70,328.00 C367.27,330.33 367.60,332.28 367.70,334.00 C367.80,335.72 367.37,337.58 367.30,338.30 L356.10,338.30 C356.03,337.58 355.60,335.72 355.70,334.00 C355.80,332.28 356.13,330.33 356.70,328.00 C357.27,325.67 358.38,322.67 359.10,320.00 C359.82,317.33 360.67,315.00 361.00,312.00 C361.33,309.00 361.25,305.00 361.10,302.00 C360.95,299.00 360.33,295.95 360.10,294.00 C359.87,292.05 359.77,290.92 359.70,290.30 Z" fill="#fff" stroke="#3a3a3a" stroke-width="0.8" stroke-linejoin="round"/>
<path d="M375.20,337.20 L387.20,337.20 C387.07,337.67 387.20,338.57 386.40,340.00 C385.60,341.43 383.15,343.80 382.40,345.80 C381.65,347.80 381.97,349.97 381.90,352.00 C381.83,354.03 381.82,356.33 382.00,358.00 C382.18,359.67 382.88,360.78 383.00,362.00 C383.12,363.22 382.75,364.75 382.70,365.30 L379.70,365.30 C379.65,364.75 379.28,363.22 379.40,362.00 C379.52,360.78 380.22,359.67 380.40,358.00 C380.58,356.33 380.57,354.03 380.50,352.00 C380.43,349.97 380.75,347.80 380.00,345.80 C379.25,343.80 376.80,341.43 376.00,340.00 C375.20,338.57 375.33,337.67 375.20,337.20 Z" fill="#fff" stroke="#3a3a3a" stroke-width="0.8" stroke-linejoin="round"/>
<circle cx="342.80" cy="281.70" r="2.0240000000000005" fill="#5db834" stroke="#151a10" stroke-width="1.0"/>
<circle cx="342.80" cy="292.00" r="2.0240000000000005" fill="#5db834" stroke="#151a10" stroke-width="1.0"/>
<circle cx="338.30" cy="303.80" r="2.0240000000000005" fill="#5db834" stroke="#151a10" stroke-width="1.0"/>
<circle cx="342.80" cy="303.80" r="2.0240000000000005" fill="#5db834" stroke="#151a10" stroke-width="1.0"/>
<circle cx="347.20" cy="303.80" r="2.0240000000000005" fill="#5db834" stroke="#151a10" stroke-width="1.0"/>
<circle cx="361.70" cy="290.30" r="2.0240000000000005" fill="#5db834" stroke="#151a10" stroke-width="1.0"/>
<circle cx="361.70" cy="333.00" r="2.0240000000000005" fill="#5db834" stroke="#151a10" stroke-width="1.0"/>
<circle cx="357.50" cy="338.30" r="2.0240000000000005" fill="#5db834" stroke="#151a10" stroke-width="1.0"/>
<circle cx="361.70" cy="337.20" r="2.0240000000000005" fill="#5db834" stroke="#151a10" stroke-width="1.0"/>
<circle cx="366.30" cy="338.30" r="2.0240000000000005" fill="#5db834" stroke="#151a10" stroke-width="1.0"/>
<circle cx="376.30" cy="337.20" r="2.0240000000000005" fill="#5db834" stroke="#151a10" stroke-width="1.0"/>
<circle cx="379.70" cy="337.70" r="2.0240000000000005" fill="#5db834" stroke="#151a10" stroke-width="1.0"/>
<circle cx="382.50" cy="337.70" r="2.0240000000000005" fill="#5db834" stroke="#151a10" stroke-width="1.0"/>
<circle cx="385.80" cy="338.00" r="2.0240000000000005" fill="#5db834" stroke="#151a10" stroke-width="1.0"/>
<circle cx="381.20" cy="365.30" r="2.0240000000000005" fill="#5db834" stroke="#151a10" stroke-width="1.0"/>
<text x="411.25" y="251.41" font-size="12.8" text-anchor="start" fill="#000" font-weight="bold" stroke="#000" stroke-width="0.3">F</text>
<line x1="452.50" y1="258.20" x2="452.50" y2="399.40" stroke="#111" stroke-width="1.5"/>
<line x1="449.30" y1="273.60" x2="452.50" y2="273.60" stroke="#111" stroke-width="1.0"/>
<text x="445.60" y="276.70" font-size="8.6" text-anchor="end" fill="#111" stroke="#111" stroke-width="0.18">0.00</text>
<line x1="449.30" y1="304.90" x2="452.50" y2="304.90" stroke="#111" stroke-width="1.0"/>
<text x="445.60" y="308.00" font-size="8.6" text-anchor="end" fill="#111" stroke="#111" stroke-width="0.18">-0.02</text>
<line x1="449.30" y1="336.20" x2="452.50" y2="336.20" stroke="#111" stroke-width="1.0"/>
<text x="445.60" y="339.30" font-size="8.6" text-anchor="end" fill="#111" stroke="#111" stroke-width="0.18">-0.04</text>
<line x1="449.30" y1="367.50" x2="452.50" y2="367.50" stroke="#111" stroke-width="1.0"/>
<text x="445.60" y="370.60" font-size="8.6" text-anchor="end" fill="#111" stroke="#111" stroke-width="0.18">-0.06</text>
<line x1="449.30" y1="398.80" x2="452.50" y2="398.80" stroke="#111" stroke-width="1.0"/>
<text x="445.60" y="401.90" font-size="8.6" text-anchor="end" fill="#111" stroke="#111" stroke-width="0.18">-0.08</text>
<line x1="451.80" y1="398.80" x2="512.00" y2="398.80" stroke="#111" stroke-width="1.5"/>
<line x1="469.50" y1="398.80" x2="469.50" y2="402.00" stroke="#111" stroke-width="1.0"/>
<text x="469.50" y="413.60" font-size="8.6" text-anchor="middle" fill="#111" stroke="#111" stroke-width="0.18">100</text>
<line x1="495.00" y1="398.80" x2="495.00" y2="402.00" stroke="#111" stroke-width="1.0"/>
<text x="495.00" y="413.60" font-size="8.6" text-anchor="middle" fill="#111" stroke="#111" stroke-width="0.18">100 +</text>
<text x="496.00" y="424.40" font-size="8.6" text-anchor="middle" fill="#111" stroke="#111" stroke-width="0.18">Heparin</text>
<text x="416.30" y="333.88" font-size="10.5" text-anchor="middle" fill="#111" textLength="36" lengthAdjust="spacingAndGlyphs" transform="rotate(-90 416.30 330.10)" stroke="#111" stroke-width="0.25">Slope (1/h)</text>
<line x1="453.50" y1="273.60" x2="513.00" y2="273.60" stroke="#222" stroke-width="1.0" stroke-dasharray="1 1.1"/>
<line x1="469.50" y1="339.00" x2="495.00" y2="282.50" stroke="#111" stroke-width="1.0"/>
<line x1="469.50" y1="340.50" x2="495.00" y2="294.30" stroke="#111" stroke-width="1.0"/>
<line x1="469.50" y1="369.00" x2="495.00" y2="297.50" stroke="#111" stroke-width="1.0"/>
<circle cx="469.50" cy="339.00" r="2.116" fill="#5db834" stroke="#151a10" stroke-width="1.0"/>
<circle cx="469.50" cy="340.50" r="2.116" fill="#5db834" stroke="#151a10" stroke-width="1.0"/>
<circle cx="469.50" cy="369.00" r="2.116" fill="#5db834" stroke="#151a10" stroke-width="1.0"/>
<circle cx="495.00" cy="282.50" r="2.116" fill="#5db834" stroke="#151a10" stroke-width="1.0"/>
<circle cx="495.00" cy="294.30" r="2.116" fill="#5db834" stroke="#151a10" stroke-width="1.0"/>
<circle cx="495.00" cy="297.50" r="2.116" fill="#5db834" stroke="#151a10" stroke-width="1.0"/>
<text x="9.50" y="469.11" font-size="12.8" text-anchor="start" fill="#000" font-weight="bold" stroke="#000" stroke-width="0.3">G</text>
<line x1="41.30" y1="488.00" x2="41.30" y2="622.60" stroke="#111" stroke-width="1.5"/>
<line x1="38.10" y1="490.30" x2="41.30" y2="490.30" stroke="#111" stroke-width="1.0"/>
<text x="34.00" y="493.40" font-size="8.6" text-anchor="end" fill="#111" stroke="#111" stroke-width="0.18">25</text>
<line x1="38.10" y1="510.30" x2="41.30" y2="510.30" stroke="#111" stroke-width="1.0"/>
<text x="34.00" y="513.40" font-size="8.6" text-anchor="end" fill="#111" stroke="#111" stroke-width="0.18">20</text>
<line x1="38.10" y1="530.30" x2="41.30" y2="530.30" stroke="#111" stroke-width="1.0"/>
<text x="34.00" y="533.40" font-size="8.6" text-anchor="end" fill="#111" stroke="#111" stroke-width="0.18">15</text>
<line x1="38.10" y1="550.30" x2="41.30" y2="550.30" stroke="#111" stroke-width="1.0"/>
<text x="34.00" y="553.40" font-size="8.6" text-anchor="end" fill="#111" stroke="#111" stroke-width="0.18">10</text>
<line x1="38.10" y1="570.30" x2="41.30" y2="570.30" stroke="#111" stroke-width="1.0"/>
<text x="34.00" y="573.40" font-size="8.6" text-anchor="end" fill="#111" stroke="#111" stroke-width="0.18">5</text>
<line x1="38.10" y1="590.30" x2="41.30" y2="590.30" stroke="#111" stroke-width="1.0"/>
<text x="34.00" y="593.40" font-size="8.6" text-anchor="end" fill="#111" stroke="#111" stroke-width="0.18">0</text>
<line x1="38.10" y1="610.30" x2="41.30" y2="610.30" stroke="#111" stroke-width="1.0"/>
<text x="34.00" y="613.40" font-size="8.6" text-anchor="end" fill="#111" stroke="#111" stroke-width="0.18">-5</text>
<line x1="40.60" y1="622.10" x2="166.80" y2="622.10" stroke="#111" stroke-width="1.5"/>
<line x1="54.10" y1="622.10" x2="54.10" y2="625.30" stroke="#111" stroke-width="1.0"/>
<line x1="73.95" y1="622.10" x2="73.95" y2="625.30" stroke="#111" stroke-width="1.0"/>
<line x1="93.80" y1="622.10" x2="93.80" y2="625.30" stroke="#111" stroke-width="1.0"/>
<line x1="113.65" y1="622.10" x2="113.65" y2="625.30" stroke="#111" stroke-width="1.0"/>
<line x1="133.50" y1="622.10" x2="133.50" y2="625.30" stroke="#111" stroke-width="1.0"/>
<line x1="153.35" y1="622.10" x2="153.35" y2="625.30" stroke="#111" stroke-width="1.0"/>
<text x="56.60" y="635.27" font-size="8.8" text-anchor="end" fill="#111" stroke="#111" stroke-width="0.18" transform="rotate(-45 56.60 632.10)">HC</text>
<text x="76.45" y="635.27" font-size="8.8" text-anchor="end" fill="#111" stroke="#111" stroke-width="0.18" transform="rotate(-45 76.45 632.10)">MF</text>
<text x="96.30" y="635.27" font-size="8.8" text-anchor="end" fill="#111" stroke="#111" stroke-width="0.18" transform="rotate(-45 96.30 632.10)">UM</text>
<text x="116.15" y="635.27" font-size="8.8" text-anchor="end" fill="#111" stroke="#111" stroke-width="0.18" transform="rotate(-45 116.15 632.10)">Non-CM</text>
<text x="136.00" y="635.27" font-size="8.8" text-anchor="end" fill="#111" stroke="#111" stroke-width="0.18" transform="rotate(-45 136.00 632.10)">Ret-CM</text>
<text x="155.85" y="635.27" font-size="8.8" text-anchor="end" fill="#111" stroke="#111" stroke-width="0.18" transform="rotate(-45 155.85 632.10)">Ret+CM</text>
<text x="14.50" y="556.28" font-size="10.5" text-anchor="middle" fill="#111" textLength="93" lengthAdjust="spacingAndGlyphs" transform="rotate(-90 14.50 552.50)" stroke="#111" stroke-width="0.25">Normalized cell toxicity (%)</text>
<line x1="42.00" y1="590.30" x2="167.30" y2="590.30" stroke="#222" stroke-width="1.0" stroke-dasharray="1 1.1"/>
<polyline points="51.80,478.30 51.80,474.30 153.50,474.30 153.50,478.30" fill="none" stroke="#222" stroke-width="1.1"/>
<text x="102.50" y="473.38" font-size="8" text-anchor="middle" fill="#111" stroke="#111" stroke-width="0.18">**</text>
<polyline points="51.80,500.00 51.80,495.90 103.40,495.90 103.40,502.00" fill="none" stroke="#222" stroke-width="1.1"/>
<line x1="75.50" y1="502.00" x2="139.40" y2="502.00" stroke="#222" stroke-width="1.1"/>
<text x="77.50" y="493.55" font-size="8.2" text-anchor="middle" fill="#111" stroke="#111" stroke-width="0.18">ns</text>
<path d="M70.15,562.00 L77.75,562.00 C77.72,562.50 77.85,563.67 77.55,565.00 C77.25,566.33 76.42,568.40 75.95,570.00 C75.48,571.60 74.65,573.27 74.75,574.60 C74.85,575.93 75.78,576.60 76.55,578.00 C77.32,579.40 78.87,581.63 79.35,583.00 C79.83,584.37 79.43,585.67 79.45,586.20 L68.45,586.20 C68.47,585.67 68.07,584.37 68.55,583.00 C69.03,581.63 70.58,579.40 71.35,578.00 C72.12,576.60 73.05,575.93 73.15,574.60 C73.25,573.27 72.42,571.60 71.95,570.00 C71.48,568.40 70.65,566.33 70.35,565.00 C70.05,563.67 70.18,562.50 70.15,562.00 Z" fill="#fff" stroke="#3a3a3a" stroke-width="0.85" stroke-linejoin="round"/>
<line x1="70.25" y1="563.50" x2="77.65" y2="563.50" stroke="#3a3a3a" stroke-width="0.8"/>
<line x1="68.50" y1="584.60" x2="79.40" y2="584.60" stroke="#111" stroke-width="1.8"/>
<path d="M91.00,537.00 L96.60,537.00 C96.57,537.67 96.67,539.67 96.40,541.00 C96.13,542.33 95.32,543.50 95.00,545.00 C94.68,546.50 94.40,548.17 94.50,550.00 C94.60,551.83 95.05,552.92 95.60,556.00 C96.15,559.08 97.17,565.17 97.80,568.50 C98.43,571.83 99.00,573.70 99.40,576.00 C99.80,578.30 100.17,579.97 100.20,582.30 C100.23,584.63 99.90,587.82 99.60,590.00 C99.30,592.18 98.60,594.50 98.40,595.40 L89.20,595.40 C89.00,594.50 88.30,592.18 88.00,590.00 C87.70,587.82 87.37,584.63 87.40,582.30 C87.43,579.97 87.80,578.30 88.20,576.00 C88.60,573.70 89.17,571.83 89.80,568.50 C90.43,565.17 91.45,559.08 92.00,556.00 C92.55,552.92 93.00,551.83 93.10,550.00 C93.20,548.17 92.92,546.50 92.60,545.00 C92.28,543.50 91.47,542.33 91.20,541.00 C90.93,539.67 91.03,537.67 91.00,537.00 Z" fill="#fff" stroke="#3a3a3a" stroke-width="0.85" stroke-linejoin="round"/>
<line x1="88.07" y1="590.30" x2="99.53" y2="590.30" stroke="#3a3a3a" stroke-width="0.8"/>
<line x1="87.52" y1="583.80" x2="100.08" y2="583.80" stroke="#111" stroke-width="1.8"/>
<path d="M109.65,553.80 L117.65,553.80 C117.68,554.50 117.98,556.63 117.85,558.00 C117.72,559.37 117.13,560.50 116.85,562.00 C116.57,563.50 116.12,564.83 116.15,567.00 C116.18,569.17 116.67,572.17 117.05,575.00 C117.43,577.83 118.15,581.50 118.45,584.00 C118.75,586.50 118.78,587.67 118.85,590.00 C118.92,592.33 118.92,595.63 118.85,598.00 C118.78,600.37 118.52,603.17 118.45,604.20 L108.85,604.20 C108.78,603.17 108.52,600.37 108.45,598.00 C108.38,595.63 108.38,592.33 108.45,590.00 C108.52,587.67 108.55,586.50 108.85,584.00 C109.15,581.50 109.87,577.83 110.25,575.00 C110.63,572.17 111.12,569.17 111.15,567.00 C111.18,564.83 110.73,563.50 110.45,562.00 C110.17,560.50 109.58,559.37 109.45,558.00 C109.32,556.63 109.62,554.50 109.65,553.80 Z" fill="#fff" stroke="#3a3a3a" stroke-width="0.85" stroke-linejoin="round"/>
<line x1="108.45" y1="593.10" x2="118.85" y2="593.10" stroke="#111" stroke-width="1.8"/>
<path d="M127.10,564.80 L139.90,564.80 C139.93,565.33 140.20,566.58 140.10,568.00 C140.00,569.42 139.82,571.47 139.30,573.30 C138.78,575.13 137.77,577.05 137.00,579.00 C136.23,580.95 135.20,583.12 134.70,585.00 C134.20,586.88 133.90,588.47 134.00,590.30 C134.10,592.13 134.83,594.05 135.30,596.00 C135.77,597.95 136.50,600.33 136.80,602.00 C137.10,603.67 137.07,604.53 137.10,606.00 C137.13,607.47 137.02,610.00 137.00,610.80 L130.00,610.80 C129.98,610.00 129.87,607.47 129.90,606.00 C129.93,604.53 129.90,603.67 130.20,602.00 C130.50,600.33 131.23,597.95 131.70,596.00 C132.17,594.05 132.90,592.13 133.00,590.30 C133.10,588.47 132.80,586.88 132.30,585.00 C131.80,583.12 130.77,580.95 130.00,579.00 C129.23,577.05 128.22,575.13 127.70,573.30 C127.18,571.47 127.00,569.42 126.90,568.00 C126.80,566.58 127.07,565.33 127.10,564.80 Z" fill="#fff" stroke="#3a3a3a" stroke-width="0.85" stroke-linejoin="round"/>
<line x1="130.03" y1="604.20" x2="136.97" y2="604.20" stroke="#3a3a3a" stroke-width="0.8"/>
<line x1="127.70" y1="573.30" x2="139.30" y2="573.30" stroke="#111" stroke-width="1.8"/>
<path d="M151.65,508.30 L155.05,508.30 C155.08,508.92 155.20,510.38 155.25,512.00 C155.30,513.62 155.27,516.17 155.35,518.00 C155.43,519.83 155.53,521.50 155.75,523.00 C155.97,524.50 156.45,525.83 156.65,527.00 C156.85,528.17 156.88,528.45 156.95,530.00 C157.02,531.55 156.95,532.97 157.05,536.30 C157.15,539.63 157.28,545.22 157.55,550.00 C157.82,554.78 158.33,560.83 158.65,565.00 C158.97,569.17 159.28,571.93 159.45,575.00 C159.62,578.07 159.70,581.23 159.65,583.40 C159.60,585.57 159.40,586.90 159.15,588.00 C158.90,589.10 158.32,589.67 158.15,590.00 L148.55,590.00 C148.38,589.67 147.80,589.10 147.55,588.00 C147.30,586.90 147.10,585.57 147.05,583.40 C147.00,581.23 147.08,578.07 147.25,575.00 C147.42,571.93 147.73,569.17 148.05,565.00 C148.37,560.83 148.88,554.78 149.15,550.00 C149.42,545.22 149.55,539.63 149.65,536.30 C149.75,532.97 149.68,531.55 149.75,530.00 C149.82,528.45 149.85,528.17 150.05,527.00 C150.25,525.83 150.73,524.50 150.95,523.00 C151.17,521.50 151.27,519.83 151.35,518.00 C151.43,516.17 151.40,513.62 151.45,512.00 C151.50,510.38 151.62,508.92 151.65,508.30 Z" fill="#fff" stroke="#3a3a3a" stroke-width="0.85" stroke-linejoin="round"/>
<line x1="149.65" y1="536.30" x2="157.05" y2="536.30" stroke="#3a3a3a" stroke-width="0.8"/>
<line x1="147.05" y1="583.40" x2="159.65" y2="583.40" stroke="#3a3a3a" stroke-width="0.8"/>
<line x1="148.05" y1="565.00" x2="158.65" y2="565.00" stroke="#111" stroke-width="1.6"/>
<circle cx="48.60" cy="590.30" r="1.45" fill="#d2edc4" stroke="#5fb83c" stroke-width="0.95"/>
<circle cx="50.90" cy="590.30" r="1.45" fill="#d2edc4" stroke="#5fb83c" stroke-width="0.95"/>
<circle cx="53.20" cy="590.30" r="1.45" fill="#d2edc4" stroke="#5fb83c" stroke-width="0.95"/>
<circle cx="55.50" cy="590.30" r="1.45" fill="#d2edc4" stroke="#5fb83c" stroke-width="0.95"/>
<circle cx="57.80" cy="590.30" r="1.45" fill="#d2edc4" stroke="#5fb83c" stroke-width="0.95"/>
<circle cx="60.10" cy="590.30" r="1.45" fill="#d2edc4" stroke="#5fb83c" stroke-width="0.95"/>
<circle cx="73.80" cy="562.00" r="1.45" fill="#d2edc4" stroke="#5fb83c" stroke-width="0.95"/>
<circle cx="73.80" cy="566.60" r="1.45" fill="#d2edc4" stroke="#5fb83c" stroke-width="0.95"/>
<circle cx="68.90" cy="586.20" r="1.45" fill="#d2edc4" stroke="#5fb83c" stroke-width="0.95"/>
<circle cx="73.80" cy="584.60" r="1.45" fill="#d2edc4" stroke="#5fb83c" stroke-width="0.95"/>
<circle cx="79.40" cy="584.60" r="1.45" fill="#d2edc4" stroke="#5fb83c" stroke-width="0.95"/>
<circle cx="93.80" cy="537.00" r="1.45" fill="#d2edc4" stroke="#5fb83c" stroke-width="0.95"/>
<circle cx="93.80" cy="575.40" r="1.45" fill="#d2edc4" stroke="#5fb83c" stroke-width="0.95"/>
<circle cx="91.20" cy="583.80" r="1.45" fill="#d2edc4" stroke="#5fb83c" stroke-width="0.95"/>
<circle cx="96.60" cy="583.80" r="1.45" fill="#d2edc4" stroke="#5fb83c" stroke-width="0.95"/>
<circle cx="93.80" cy="595.40" r="1.45" fill="#d2edc4" stroke="#5fb83c" stroke-width="0.95"/>
<circle cx="113.80" cy="553.80" r="1.45" fill="#d2edc4" stroke="#5fb83c" stroke-width="0.95"/>
<circle cx="113.80" cy="593.10" r="1.45" fill="#d2edc4" stroke="#5fb83c" stroke-width="0.95"/>
<circle cx="113.80" cy="604.20" r="1.45" fill="#d2edc4" stroke="#5fb83c" stroke-width="0.95"/>
<circle cx="131.00" cy="565.80" r="1.45" fill="#d2edc4" stroke="#5fb83c" stroke-width="0.95"/>
<circle cx="136.40" cy="565.80" r="1.45" fill="#d2edc4" stroke="#5fb83c" stroke-width="0.95"/>
<circle cx="133.80" cy="571.00" r="1.45" fill="#d2edc4" stroke="#5fb83c" stroke-width="0.95"/>
<circle cx="133.80" cy="575.20" r="1.45" fill="#d2edc4" stroke="#5fb83c" stroke-width="0.95"/>
<circle cx="133.80" cy="601.90" r="1.45" fill="#d2edc4" stroke="#5fb83c" stroke-width="0.95"/>
<circle cx="133.80" cy="610.60" r="1.45" fill="#d2edc4" stroke="#5fb83c" stroke-width="0.95"/>
<circle cx="153.50" cy="509.30" r="1.45" fill="#d2edc4" stroke="#5fb83c" stroke-width="0.95"/>
<circle cx="151.00" cy="528.80" r="1.45" fill="#d2edc4" stroke="#5fb83c" stroke-width="0.95"/>
<circle cx="156.30" cy="528.80" r="1.45" fill="#d2edc4" stroke="#5fb83c" stroke-width="0.95"/>
<circle cx="153.50" cy="543.30" r="1.45" fill="#d2edc4" stroke="#5fb83c" stroke-width="0.95"/>
<circle cx="153.50" cy="547.00" r="1.45" fill="#d2edc4" stroke="#5fb83c" stroke-width="0.95"/>
<circle cx="153.50" cy="560.60" r="1.45" fill="#d2edc4" stroke="#5fb83c" stroke-width="0.95"/>
<circle cx="153.50" cy="565.20" r="1.45" fill="#d2edc4" stroke="#5fb83c" stroke-width="0.95"/>
<circle cx="153.50" cy="569.60" r="1.45" fill="#d2edc4" stroke="#5fb83c" stroke-width="0.95"/>
<circle cx="153.50" cy="573.60" r="1.45" fill="#d2edc4" stroke="#5fb83c" stroke-width="0.95"/>
<circle cx="150.90" cy="584.20" r="1.45" fill="#d2edc4" stroke="#5fb83c" stroke-width="0.95"/>
<circle cx="156.30" cy="582.20" r="1.45" fill="#d2edc4" stroke="#5fb83c" stroke-width="0.95"/>
<circle cx="156.30" cy="586.30" r="1.45" fill="#d2edc4" stroke="#5fb83c" stroke-width="0.95"/>
<circle cx="153.50" cy="589.00" r="1.45" fill="#d2edc4" stroke="#5fb83c" stroke-width="0.95"/>
<text x="184.40" y="469.01" font-size="12.8" text-anchor="start" fill="#000" font-weight="bold" stroke="#000" stroke-width="0.3">H</text>
<line x1="216.20" y1="488.50" x2="216.20" y2="622.60" stroke="#111" stroke-width="1.5"/>
<line x1="213.00" y1="491.30" x2="216.20" y2="491.30" stroke="#111" stroke-width="1.0"/>
<text x="209.60" y="494.40" font-size="8.6" text-anchor="end" fill="#111" stroke="#111" stroke-width="0.18">25</text>
<line x1="213.00" y1="511.20" x2="216.20" y2="511.20" stroke="#111" stroke-width="1.0"/>
<text x="209.60" y="514.30" font-size="8.6" text-anchor="end" fill="#111" stroke="#111" stroke-width="0.18">20</text>
<line x1="213.00" y1="531.10" x2="216.20" y2="531.10" stroke="#111" stroke-width="1.0"/>
<text x="209.60" y="534.20" font-size="8.6" text-anchor="end" fill="#111" stroke="#111" stroke-width="0.18">15</text>
<line x1="213.00" y1="551.00" x2="216.20" y2="551.00" stroke="#111" stroke-width="1.0"/>
<text x="209.60" y="554.10" font-size="8.6" text-anchor="end" fill="#111" stroke="#111" stroke-width="0.18">10</text>
<line x1="213.00" y1="570.90" x2="216.20" y2="570.90" stroke="#111" stroke-width="1.0"/>
<text x="209.60" y="574.00" font-size="8.6" text-anchor="end" fill="#111" stroke="#111" stroke-width="0.18">5</text>
<line x1="213.00" y1="590.80" x2="216.20" y2="590.80" stroke="#111" stroke-width="1.0"/>
<text x="209.60" y="593.90" font-size="8.6" text-anchor="end" fill="#111" stroke="#111" stroke-width="0.18">0</text>
<line x1="213.00" y1="610.70" x2="216.20" y2="610.70" stroke="#111" stroke-width="1.0"/>
<text x="209.60" y="613.80" font-size="8.6" text-anchor="end" fill="#111" stroke="#111" stroke-width="0.18">-5</text>
<line x1="215.50" y1="622.10" x2="264.00" y2="622.10" stroke="#111" stroke-width="1.5"/>
<line x1="230.30" y1="622.10" x2="230.30" y2="625.30" stroke="#111" stroke-width="1.0"/>
<line x1="250.60" y1="622.10" x2="250.60" y2="625.30" stroke="#111" stroke-width="1.0"/>
<text x="232.80" y="635.27" font-size="8.8" text-anchor="end" fill="#111" stroke="#111" stroke-width="0.18" transform="rotate(-45 232.80 632.10)">Ret+CM (low)</text>
<text x="253.10" y="635.27" font-size="8.8" text-anchor="end" fill="#111" stroke="#111" stroke-width="0.18" transform="rotate(-45 253.10 632.10)">Ret+CM (high)</text>
<text x="189.50" y="556.68" font-size="10.5" text-anchor="middle" fill="#111" textLength="81.7" lengthAdjust="spacingAndGlyphs" transform="rotate(-90 189.50 552.90)" stroke="#111" stroke-width="0.25">Normalized cell toxicity (%)</text>
<line x1="217.00" y1="590.80" x2="264.00" y2="590.80" stroke="#222" stroke-width="1.0" stroke-dasharray="1 1.1"/>
<polyline points="226.70,491.20 226.70,487.20 250.80,487.20 250.80,491.20" fill="none" stroke="#222" stroke-width="1.1"/>
<text x="238.80" y="487.38" font-size="8" text-anchor="middle" fill="#111" stroke="#111" stroke-width="0.18">**</text>
<path d="M229.30,573.30 L231.30,573.30 C231.60,573.75 232.40,574.88 233.10,576.00 C233.80,577.12 234.87,578.60 235.50,580.00 C236.13,581.40 236.77,583.23 236.90,584.40 C237.03,585.57 236.73,586.13 236.30,587.00 C235.87,587.87 234.63,589.17 234.30,589.60 L226.30,589.60 C225.97,589.17 224.73,587.87 224.30,587.00 C223.87,586.13 223.57,585.57 223.70,584.40 C223.83,583.23 224.47,581.40 225.10,580.00 C225.73,578.60 226.80,577.12 227.50,576.00 C228.20,574.88 229.00,573.75 229.30,573.30 Z" fill="#fff" stroke="#3a3a3a" stroke-width="0.85" stroke-linejoin="round"/>
<line x1="223.79" y1="584.80" x2="236.81" y2="584.80" stroke="#111" stroke-width="1.6"/>
<path d="M248.30,510.00 L252.70,510.00 C252.72,510.67 252.73,512.33 252.80,514.00 C252.87,515.67 252.78,518.17 253.10,520.00 C253.42,521.83 254.17,523.27 254.70,525.00 C255.23,526.73 256.02,527.90 256.30,530.40 C256.58,532.90 256.40,536.73 256.40,540.00 C256.40,543.27 256.35,547.17 256.30,550.00 C256.25,552.83 256.23,555.00 256.10,557.00 C255.97,559.00 255.43,560.33 255.50,562.00 C255.57,563.67 256.27,565.45 256.50,567.00 C256.73,568.55 256.83,570.58 256.90,571.30 L244.10,571.30 C244.17,570.58 244.27,568.55 244.50,567.00 C244.73,565.45 245.43,563.67 245.50,562.00 C245.57,560.33 245.03,559.00 244.90,557.00 C244.77,555.00 244.75,552.83 244.70,550.00 C244.65,547.17 244.60,543.27 244.60,540.00 C244.60,536.73 244.42,532.90 244.70,530.40 C244.98,527.90 245.77,526.73 246.30,525.00 C246.83,523.27 247.58,521.83 247.90,520.00 C248.22,518.17 248.13,515.67 248.20,514.00 C248.27,512.33 248.28,510.67 248.30,510.00 Z" fill="#fff" stroke="#3a3a3a" stroke-width="0.85" stroke-linejoin="round"/>
<line x1="244.70" y1="530.40" x2="256.30" y2="530.40" stroke="#3a3a3a" stroke-width="0.8"/>
<line x1="244.98" y1="564.60" x2="256.02" y2="564.60" stroke="#3a3a3a" stroke-width="0.8"/>
<line x1="244.66" y1="545.50" x2="256.35" y2="545.50" stroke="#111" stroke-width="1.6"/>
<circle cx="230.30" cy="574.60" r="1.45" fill="#d2edc4" stroke="#5fb83c" stroke-width="0.95"/>
<circle cx="227.30" cy="584.60" r="1.45" fill="#d2edc4" stroke="#5fb83c" stroke-width="0.95"/>
<circle cx="232.50" cy="582.00" r="1.45" fill="#d2edc4" stroke="#5fb83c" stroke-width="0.95"/>
<circle cx="232.50" cy="587.50" r="1.45" fill="#d2edc4" stroke="#5fb83c" stroke-width="0.95"/>
<circle cx="230.30" cy="589.60" r="1.45" fill="#d2edc4" stroke="#5fb83c" stroke-width="0.95"/>
<circle cx="250.50" cy="511.00" r="1.45" fill="#d2edc4" stroke="#5fb83c" stroke-width="0.95"/>
<circle cx="247.90" cy="530.40" r="1.45" fill="#d2edc4" stroke="#5fb83c" stroke-width="0.95"/>
<circle cx="253.30" cy="530.40" r="1.45" fill="#d2edc4" stroke="#5fb83c" stroke-width="0.95"/>
<circle cx="250.50" cy="543.00" r="1.45" fill="#d2edc4" stroke="#5fb83c" stroke-width="0.95"/>
<circle cx="250.50" cy="547.90" r="1.45" fill="#d2edc4" stroke="#5fb83c" stroke-width="0.95"/>
<circle cx="250.50" cy="560.80" r="1.45" fill="#d2edc4" stroke="#5fb83c" stroke-width="0.95"/>
<circle cx="250.50" cy="565.60" r="1.45" fill="#d2edc4" stroke="#5fb83c" stroke-width="0.95"/>
<circle cx="250.50" cy="570.40" r="1.45" fill="#d2edc4" stroke="#5fb83c" stroke-width="0.95"/>
<text x="281.20" y="468.91" font-size="12.8" text-anchor="start" fill="#000" font-weight="bold" stroke="#000" stroke-width="0.3">I</text>
<line x1="313.30" y1="488.70" x2="313.30" y2="623.00" stroke="#111" stroke-width="1.5"/>
<line x1="310.10" y1="491.60" x2="313.30" y2="491.60" stroke="#111" stroke-width="1.0"/>
<text x="307.20" y="494.70" font-size="8.6" text-anchor="end" fill="#111" stroke="#111" stroke-width="0.18">25</text>
<line x1="310.10" y1="511.40" x2="313.30" y2="511.40" stroke="#111" stroke-width="1.0"/>
<text x="307.20" y="514.50" font-size="8.6" text-anchor="end" fill="#111" stroke="#111" stroke-width="0.18">20</text>
<line x1="310.10" y1="531.20" x2="313.30" y2="531.20" stroke="#111" stroke-width="1.0"/>
<text x="307.20" y="534.30" font-size="8.6" text-anchor="end" fill="#111" stroke="#111" stroke-width="0.18">15</text>
<line x1="310.10" y1="551.00" x2="313.30" y2="551.00" stroke="#111" stroke-width="1.0"/>
<text x="307.20" y="554.10" font-size="8.6" text-anchor="end" fill="#111" stroke="#111" stroke-width="0.18">10</text>
<line x1="310.10" y1="570.80" x2="313.30" y2="570.80" stroke="#111" stroke-width="1.0"/>
<text x="307.20" y="573.90" font-size="8.6" text-anchor="end" fill="#111" stroke="#111" stroke-width="0.18">5</text>
<line x1="310.10" y1="590.60" x2="313.30" y2="590.60" stroke="#111" stroke-width="1.0"/>
<text x="307.20" y="593.70" font-size="8.6" text-anchor="end" fill="#111" stroke="#111" stroke-width="0.18">0</text>
<line x1="310.10" y1="610.40" x2="313.30" y2="610.40" stroke="#111" stroke-width="1.0"/>
<text x="307.20" y="613.50" font-size="8.6" text-anchor="end" fill="#111" stroke="#111" stroke-width="0.18">-5</text>
<line x1="312.60" y1="622.30" x2="372.50" y2="622.30" stroke="#111" stroke-width="1.5"/>
<line x1="330.20" y1="622.30" x2="330.20" y2="625.50" stroke="#111" stroke-width="1.0"/>
<line x1="355.80" y1="622.30" x2="355.80" y2="625.50" stroke="#111" stroke-width="1.0"/>
<text x="332.20" y="634.47" font-size="8.8" text-anchor="end" fill="#111" stroke="#111" stroke-width="0.18" transform="rotate(-45 332.20 631.30)">Ret+CM</text>
<text x="357.80" y="634.47" font-size="8.8" text-anchor="end" fill="#111" stroke="#111" stroke-width="0.18" transform="rotate(-45 357.80 631.30)">Ret+CM + ahscFv</text>
<text x="287.70" y="556.68" font-size="10.5" text-anchor="middle" fill="#111" textLength="81.7" lengthAdjust="spacingAndGlyphs" transform="rotate(-90 287.70 552.90)" stroke="#111" stroke-width="0.25">Normalized cell toxicity (%)</text>
<line x1="314.00" y1="590.60" x2="372.50" y2="590.60" stroke="#222" stroke-width="1.0" stroke-dasharray="1 1.1"/>
<line x1="330.50" y1="510.50" x2="355.80" y2="581.30" stroke="#111" stroke-width="1.0"/>
<line x1="330.50" y1="530.50" x2="355.80" y2="607.50" stroke="#111" stroke-width="1.0"/>
<line x1="330.50" y1="530.50" x2="355.80" y2="616.50" stroke="#111" stroke-width="1.0"/>
<circle cx="330.50" cy="510.50" r="2.116" fill="#5db834" stroke="#151a10" stroke-width="1.0"/>
<circle cx="330.50" cy="530.50" r="2.116" fill="#5db834" stroke="#151a10" stroke-width="1.0"/>
<circle cx="355.80" cy="581.30" r="2.116" fill="#5db834" stroke="#151a10" stroke-width="1.0"/>
<circle cx="355.80" cy="607.50" r="2.116" fill="#5db834" stroke="#151a10" stroke-width="1.0"/>
<circle cx="355.80" cy="616.50" r="2.116" fill="#5db834" stroke="#151a10" stroke-width="1.0"/>
<text x="388.50" y="468.91" font-size="12.8" text-anchor="start" fill="#000" font-weight="bold" stroke="#000" stroke-width="0.3">J</text>
<line x1="421.80" y1="490.00" x2="421.80" y2="622.40" stroke="#111" stroke-width="1.5"/>
<line x1="418.60" y1="492.65" x2="421.80" y2="492.65" stroke="#111" stroke-width="1.0"/>
<text x="415.20" y="495.75" font-size="8.6" text-anchor="end" fill="#111" stroke="#111" stroke-width="0.18">25</text>
<line x1="418.60" y1="512.30" x2="421.80" y2="512.30" stroke="#111" stroke-width="1.0"/>
<text x="415.20" y="515.40" font-size="8.6" text-anchor="end" fill="#111" stroke="#111" stroke-width="0.18">20</text>
<line x1="418.60" y1="531.95" x2="421.80" y2="531.95" stroke="#111" stroke-width="1.0"/>
<text x="415.20" y="535.05" font-size="8.6" text-anchor="end" fill="#111" stroke="#111" stroke-width="0.18">15</text>
<line x1="418.60" y1="551.60" x2="421.80" y2="551.60" stroke="#111" stroke-width="1.0"/>
<text x="415.20" y="554.70" font-size="8.6" text-anchor="end" fill="#111" stroke="#111" stroke-width="0.18">10</text>
<line x1="418.60" y1="571.25" x2="421.80" y2="571.25" stroke="#111" stroke-width="1.0"/>
<text x="415.20" y="574.35" font-size="8.6" text-anchor="end" fill="#111" stroke="#111" stroke-width="0.18">5</text>
<line x1="418.60" y1="590.90" x2="421.80" y2="590.90" stroke="#111" stroke-width="1.0"/>
<text x="415.20" y="594.00" font-size="8.6" text-anchor="end" fill="#111" stroke="#111" stroke-width="0.18">0</text>
<line x1="418.60" y1="610.55" x2="421.80" y2="610.55" stroke="#111" stroke-width="1.0"/>
<text x="415.20" y="613.65" font-size="8.6" text-anchor="end" fill="#111" stroke="#111" stroke-width="0.18">-5</text>
<line x1="421.10" y1="621.80" x2="472.00" y2="621.80" stroke="#111" stroke-width="1.5"/>
<line x1="436.30" y1="621.80" x2="436.30" y2="625.00" stroke="#111" stroke-width="1.0"/>
<line x1="457.50" y1="621.80" x2="457.50" y2="625.00" stroke="#111" stroke-width="1.0"/>
<text x="438.30" y="634.97" font-size="8.8" text-anchor="end" fill="#111" stroke="#111" stroke-width="0.18" transform="rotate(-45 438.30 631.80)">Ret+CM</text>
<text x="459.50" y="634.97" font-size="8.8" text-anchor="end" fill="#111" stroke="#111" stroke-width="0.18" transform="rotate(-45 459.50 631.80)">Ret+CM + Heparin</text>
<text x="396.70" y="557.08" font-size="10.5" text-anchor="middle" fill="#111" textLength="82.7" lengthAdjust="spacingAndGlyphs" transform="rotate(-90 396.70 553.30)" stroke="#111" stroke-width="0.25">Normalized cell toxicity (%)</text>
<line x1="422.50" y1="590.90" x2="472.00" y2="590.90" stroke="#222" stroke-width="1.0" stroke-dasharray="1 1.1"/>
<line x1="436.30" y1="544.50" x2="457.50" y2="579.50" stroke="#111" stroke-width="1.0"/>
<line x1="436.30" y1="548.30" x2="457.50" y2="585.00" stroke="#111" stroke-width="1.0"/>
<line x1="436.30" y1="562.00" x2="457.50" y2="560.80" stroke="#111" stroke-width="1.0"/>
<line x1="436.30" y1="566.30" x2="457.50" y2="587.00" stroke="#111" stroke-width="1.0"/>
<line x1="436.30" y1="570.80" x2="457.50" y2="582.00" stroke="#111" stroke-width="1.0"/>
<circle cx="436.30" cy="544.50" r="2.116" fill="#5db834" stroke="#151a10" stroke-width="1.0"/>
<circle cx="436.30" cy="548.30" r="2.116" fill="#5db834" stroke="#151a10" stroke-width="1.0"/>
<circle cx="436.30" cy="562.00" r="2.116" fill="#5db834" stroke="#151a10" stroke-width="1.0"/>
<circle cx="436.30" cy="566.30" r="2.116" fill="#5db834" stroke="#151a10" stroke-width="1.0"/>
<circle cx="436.30" cy="570.80" r="2.116" fill="#5db834" stroke="#151a10" stroke-width="1.0"/>
<circle cx="457.50" cy="560.80" r="2.116" fill="#5db834" stroke="#151a10" stroke-width="1.0"/>
<circle cx="457.50" cy="579.50" r="2.116" fill="#5db834" stroke="#151a10" stroke-width="1.0"/>
<circle cx="457.50" cy="582.00" r="2.116" fill="#5db834" stroke="#151a10" stroke-width="1.0"/>
<circle cx="457.50" cy="585.00" r="2.116" fill="#5db834" stroke="#151a10" stroke-width="1.0"/>
<circle cx="457.50" cy="587.00" r="2.116" fill="#5db834" stroke="#151a10" stroke-width="1.0"/>
</svg>
</body></html>
